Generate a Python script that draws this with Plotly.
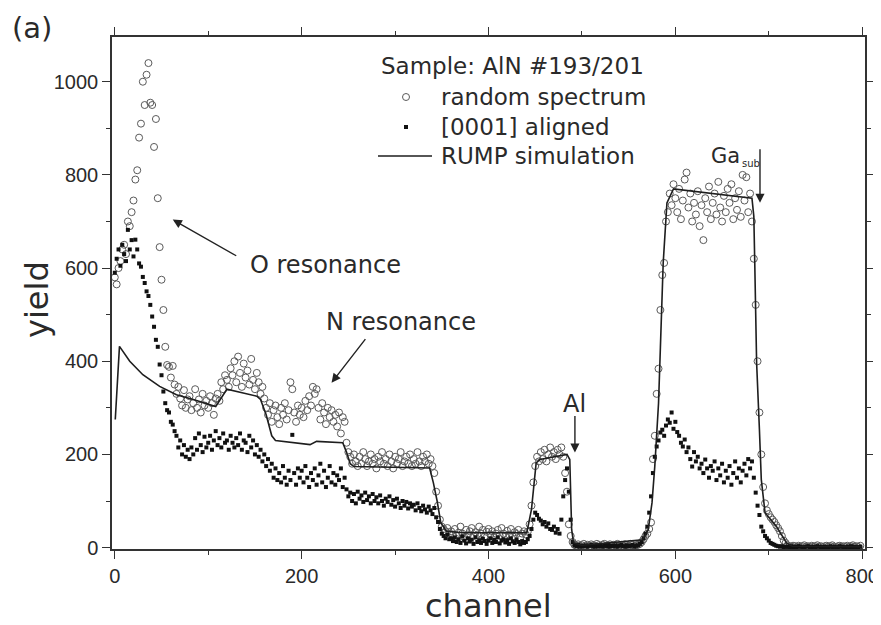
import plotly.graph_objects as go

# ---------------- data ----------------
channels = list(range(0, 800, 2))

random_spectrum = [
    580, 565, 600, 615, 640, 650, 630, 700, 690, 720, 745, 790, 810, 880, 910, 1000, 950, 1015, 1040, 955,
    950, 860, 920, 750, 645, 575, 510, 431, 392, 388, 365, 390, 350, 330, 345, 320, 305, 338, 300, 318,
    325, 295, 310, 340, 300, 318, 290, 330, 305, 315, 300, 325, 310, 285, 320, 330, 315, 355, 340, 370,
    360, 345, 385, 370, 400, 355, 410, 375, 345, 395, 365, 380, 350, 405, 360, 340, 375, 355, 330, 345,
    320, 300, 285, 310, 270, 295, 305, 280, 265, 300, 285, 310, 275, 295, 355, 340, 290, 270, 305, 285,
    300, 280, 315, 295, 325, 305, 345, 330, 340, 300, 275, 310, 290, 265, 300, 280, 295, 270, 285, 260,
    290, 245, 280, 270, 225, 205, 195, 180, 200, 185, 175, 195, 180, 205, 190, 175, 185, 200, 180, 190,
    170, 195, 185, 205, 180, 190, 175, 200, 185, 170, 195, 180, 190, 205, 175, 185, 195, 180, 200, 175,
    190, 180, 205, 185, 175, 195, 185, 200, 180, 190, 175, 160, 120, 90, 60, 45, 40, 35, 42, 30,
    35, 28, 40, 25, 32, 45, 30, 22, 38, 28, 35, 42, 25, 33, 28, 45, 30, 38, 24, 34,
    40, 28, 35, 22, 30, 38, 26, 42, 30, 25, 36, 28, 40, 24, 33, 29, 38, 22, 30, 35,
    28, 34, 50, 90, 140, 175, 195, 185, 205, 190, 210, 185, 200, 215, 195, 205, 190, 210, 200, 215,
    195, 160, 120, 50, 25, 12, 6, 4, 7, 3, 5, 8, 4, 6, 3, 7, 5, 4, 8, 5,
    3, 6, 8, 4, 5, 7, 3, 6, 5, 8, 4, 6, 3, 7, 5, 4, 8, 6, 3, 5,
    6, 8, 12, 18, 25, 30, 40, 54, 190, 240, 330, 384, 510, 585, 611, 700, 720, 760, 735, 780,
    750, 720, 770, 705, 745, 790, 805, 730, 760, 700, 740, 715, 765, 690, 735, 660, 750, 720, 775, 705,
    740, 760, 715, 785, 730, 700, 755, 720, 770, 740, 780, 705, 750, 725, 765, 710, 800, 745, 795, 720,
    760, 700, 620, 521, 400, 290, 200, 130, 95, 80, 72, 65, 60, 55, 48, 42, 35, 25, 15, 10,
    5, 3, 2, 4, 3, 1, 4, 2, 3, 5, 2, 3, 1, 4, 2, 3, 5, 2, 3, 1,
    3, 4, 2, 3, 5, 2, 1, 3, 4, 2, 3, 1, 4, 2, 3, 5, 2, 3, 1, 4,
]

aligned_0001 = [
    590, 620, 640, 605, 650, 630, 615, 682, 640, 660, 625, 661, 640, 610, 603, 581, 568, 550, 540, 521,
    496, 474, 446, 431, 393, 370, 335, 310, 295, 290, 270, 264, 250, 240, 215, 230, 200, 220, 195, 210,
    190, 215, 200, 235, 210, 245, 220, 205, 238, 215, 225, 240, 210, 230, 250, 220, 235, 215, 245, 225,
    230, 210, 240, 225, 215, 235, 220, 245, 210, 230, 225, 205, 240, 215, 230, 200, 220, 195, 210, 185,
    200, 175, 190, 165, 180, 150, 170, 145, 160, 140, 175, 150, 135, 165, 145, 242, 160, 135, 170, 150,
    165, 140, 175, 150, 130, 160, 145, 170, 135, 155, 180, 140, 165, 130, 150, 175, 140, 160, 135, 155,
    145, 170, 130, 150, 125, 110, 118, 100, 115, 95, 120, 105, 112, 98, 118, 102, 110, 95, 115, 100,
    108, 95, 112, 100, 90, 105, 98, 110, 92, 102, 88, 105, 95, 85, 100, 90, 98, 84, 95, 88,
    92, 80, 95, 85, 78, 90, 82, 75, 88, 80, 72, 85, 65, 55, 40, 30, 25, 20, 28, 18,
    20, 14, 22, 12, 18, 10, 24, 15, 9, 20, 13, 17, 8, 22, 12, 16, 10, 19, 14, 8,
    15, 20, 10, 17, 12, 22, 9, 15, 18, 11, 16, 8, 20, 13, 10, 17, 12, 7, 14, 10,
    12, 18, 25, 40, 60, 75, 70, 62, 58, 50, 55, 45, 52, 40, 38, 45, 32, 40, 30, 60,
    110, 145, 170, 120, 60, 12, 5, 3, 6, 2, 4, 3, 5, 2, 4, 6, 3, 2, 5, 3,
    4, 2, 5, 3, 6, 2, 4, 3, 5, 2, 4, 6, 3, 2, 5, 3, 4, 6, 2, 4,
    5, 8, 12, 20, 30, 45, 75, 110, 160, 195, 217, 230, 247, 253, 240, 262, 275, 268, 290, 255,
    270, 248, 240, 225, 217, 232, 205, 215, 190, 174, 205, 185, 195, 170, 180, 160, 189, 170, 150, 175,
    165, 185, 145, 170, 155, 180, 140, 165, 150, 175, 135, 160, 185, 150, 170, 140, 165, 180, 155, 190,
    170, 185, 150, 118, 90, 70, 45, 35, 25, 20, 15, 10, 8, 6, 4, 3, 2, 3, 1, 2,
    2, 1, 3, 0, 2, 1, 3, 2, 0, 1, 2, 3, 1, 0, 2, 1, 3, 2, 1, 0,
    2, 1, 0, 3, 1, 2, 0, 1, 3, 2, 1, 0, 2, 1, 3, 1, 2, 0, 1, 2,
]

rump_channel = [0.5, 5, 16, 30, 48, 66, 84, 105, 108, 120, 152, 156, 162, 168, 172, 209, 216, 244, 248,
                252, 256, 337, 341, 345, 349, 355, 373, 441, 446, 451, 455, 484, 487, 489, 491, 500,
                565, 571, 575, 578, 580, 582, 584, 587, 591, 598, 682, 684, 685, 687, 690, 692, 696,
                708, 719, 725, 800]
rump_yield = [275, 432, 400, 371, 346, 328, 318, 305, 303, 340, 325, 318, 285, 240, 230, 221, 228, 225, 205,
              180, 174, 171, 139, 100, 53, 35, 32, 32, 82, 182, 189, 200, 189, 39, 10, 5,
              17, 39, 96, 175, 250, 310, 430, 611, 740, 770, 750, 711, 611, 396, 253, 146, 75,
              46, 10, 3, 2]

x_ticks = [0, 200, 400, 600, 800]
y_ticks = [0, 200, 400, 600, 800, 1000]

# ---------------- figure ----------------
TXT = "#2a2a2a"
FONT = "DejaVu Sans"
TICKFONT = "Liberation Sans Narrow, Arial Narrow, Liberation Sans, sans-serif"

fig = go.Figure()
fig.add_trace(go.Scatter(
    x=channels, y=random_spectrum, mode="markers", name="random spectrum",
    marker=dict(symbol="circle-open", size=7, color="#5a5a5a", line=dict(width=1, color="#5a5a5a")),
))
fig.add_trace(go.Scatter(
    x=channels, y=aligned_0001, mode="markers", name="[0001] aligned",
    marker=dict(symbol="square", size=4, color="#111111", line=dict(width=0)),
))
fig.add_trace(go.Scatter(
    x=rump_channel, y=rump_yield, mode="lines", name="RUMP simulation",
    line=dict(color="#1e1e1e", width=1.6),
))

# page geometry (the page body adds an 8px offset around the figure)
OFF = 8
PAGE_W, PAGE_H = 881, 625
L, R, T, B = 112, 865, 37, 549
W, H = PAGE_W - OFF, PAGE_H - OFF


def px(xp):
    return (xp - L) / (R - L)


def py(yp):
    return (B - yp) / (B - T)


axis_common = dict(
    showline=True, linecolor="#333333", linewidth=1.5, mirror="ticks",
    ticks="outside", ticklen=8, tickwidth=1.3, tickcolor="#333333",
    showgrid=False, zeroline=False, automargin=False,
    tickfont=dict(family=TICKFONT, size=20, color=TXT),
)
fig.update_xaxes(range=[-3, 803], tickvals=x_ticks,
                 minor=dict(dtick=100, ticks="outside", ticklen=4, tickwidth=1.2, tickcolor="#333333"),
                 **axis_common)
fig.update_yaxes(range=[-3, 1096], tickvals=y_ticks,
                 minor=dict(dtick=100, ticks="outside", ticklen=4, tickwidth=1.2, tickcolor="#333333"),
                 **axis_common)

ann = []
# axis titles
ann.append(dict(text="channel", x=px(488), y=py(606), xref="paper", yref="paper", showarrow=False,
                font=dict(family=FONT, size=32, color=TXT), xanchor="center", yanchor="middle"))
ann.append(dict(text="yield", x=px(37), y=py(300), xref="paper", yref="paper", showarrow=False,
                textangle=-90, font=dict(family=FONT, size=32, color=TXT), xanchor="center", yanchor="middle"))
ann.append(dict(text="(a)", x=px(10), y=py(28), xref="paper", yref="paper", showarrow=False,
                font=dict(family=FONT, size=29, color=TXT), xanchor="left", yanchor="middle"))

# legend (manual)
ann.append(dict(text="Sample: AlN #193/201", x=px(379), y=py(66), xref="paper", yref="paper",
                showarrow=False, xanchor="left", yanchor="middle", font=dict(family=FONT, size=23, color=TXT)))
for label, ypix in [("random spectrum", 97), ("[0001] aligned", 127), ("RUMP simulation", 156)]:
    ann.append(dict(text=label, x=px(439), y=py(ypix), xref="paper", yref="paper",
                    showarrow=False, xanchor="left", yanchor="middle", font=dict(family=FONT, size=23, color=TXT)))

shapes = [
    dict(type="circle", xref="paper", yref="paper", x0=px(402.5), x1=px(409.5), y0=py(100.5), y1=py(93.5),
         line=dict(color="#5a5a5a", width=1)),
    dict(type="rect", xref="paper", yref="paper", x0=px(404), x1=px(408), y0=py(129), y1=py(125),
         line=dict(width=0), fillcolor="#111111"),
    dict(type="line", xref="paper", yref="paper", x0=px(378), x1=px(432), y0=py(156), y1=py(156),
         line=dict(color="#1e1e1e", width=1.6)),
]

# feature labels
ann.append(dict(text="O resonance", x=225, y=607, showarrow=False, xanchor="center", yanchor="middle",
                font=dict(family=FONT, size=24, color=TXT)))
ann.append(dict(text="N resonance", x=306, y=485, showarrow=False, xanchor="center", yanchor="middle",
                font=dict(family=FONT, size=24, color=TXT)))
ann.append(dict(text="Al", x=492, y=309, showarrow=False, xanchor="center", yanchor="middle",
                font=dict(family=FONT, size=24, color=TXT)))
ann.append(dict(text="Ga", x=px(709), y=py(156), xref="paper", yref="paper", showarrow=False,
                xanchor="left", yanchor="middle", font=dict(family=FONT, size=21, color=TXT)))
ann.append(dict(text="sub", x=px(740), y=py(163), xref="paper", yref="paper", showarrow=False,
                xanchor="left", yanchor="middle", font=dict(family=FONT, size=10, color=TXT)))

arrow_style = dict(showarrow=True, arrowhead=2, arrowsize=1.3, arrowwidth=1.4, arrowcolor="#222222", text="")
ann.append(dict(x=62, y=704, ax=65, ay=37, **arrow_style))
ann.append(dict(x=232, y=354, ax=35, ay=-45, **arrow_style))
ann.append(dict(x=492.5, y=204, ax=0, ay=-38, **arrow_style))
ann.append(dict(x=690.6, y=740, ax=0, ay=-55, **arrow_style))

fig.update_layout(
    width=W, height=H,
    margin=dict(l=L - OFF, r=PAGE_W - R, t=T - OFF, b=PAGE_H - B, autoexpand=False),
    paper_bgcolor="white", plot_bgcolor="white",
    showlegend=False,
    annotations=ann, shapes=shapes,
    font=dict(family=FONT, color=TXT),
)

fig.write_html("out.html")
